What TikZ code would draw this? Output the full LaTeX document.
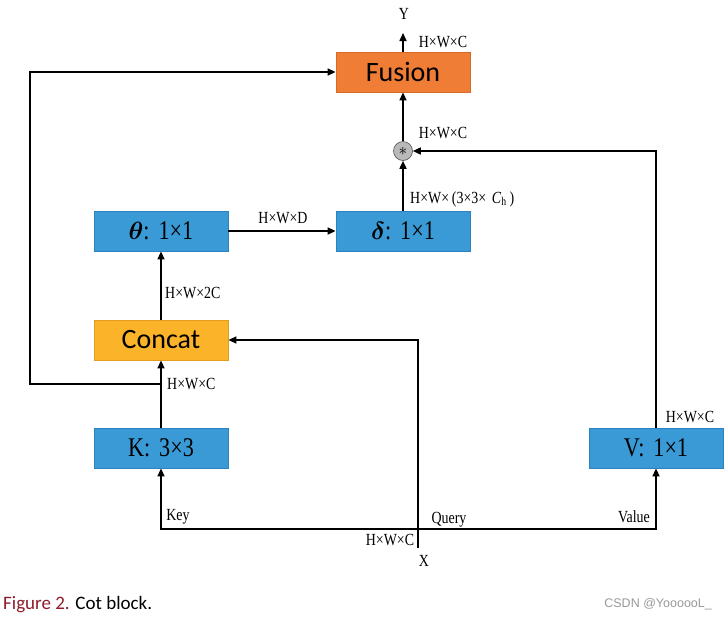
\documentclass[tikz,border=0pt]{standalone}
\usepackage{amsmath,amssymb,bm}
\usepackage{fontspec}
\setmainfont{Liberation Serif}
\newfontfamily\cotlabel[FakeStretch=0.82]{Liberation Serif}
\newfontfamily\cotsans{Carlito}
\newfontfamily\cotmark{Liberation Sans}
\usepackage{xcolor}
\usetikzlibrary{arrows.meta,positioning}
\definecolor{cotblue}{HTML}{3A9AD6}
\definecolor{cotblueline}{HTML}{2F82C0}
\definecolor{cotorange}{HTML}{F07D36}
\definecolor{cotorangeline}{HTML}{D66A2A}
\definecolor{cotyellow}{HTML}{FBB42A}
\definecolor{cotyellowline}{HTML}{E29D1E}
\definecolor{cotred}{HTML}{8E1B2A}
\tikzset{
  every picture/.append style={line join=miter},
  cot block/.style={draw=cotblueline,fill=cotblue,line width=0.8pt,minimum width=134pt,minimum height=40pt,inner sep=0pt,font=\cotlabel\fontsize{27}{30}\selectfont},
  cot fusion/.style={cot block,draw=cotorangeline,fill=cotorange,font=\cotsans\fontsize{28}{30}\selectfont},
  cot concat/.style={cot block,draw=cotyellowline,fill=cotyellow,font=\cotsans\fontsize{28}{30}\selectfont},
  cot mult/.style={circle,draw=gray!60!black,fill=gray!55,minimum size=19pt,inner sep=0pt,line width=0.6pt},
  cot dim/.style={font=\cotlabel\fontsize{17}{19}\selectfont,inner sep=1pt},
  cot line/.style={line width=1.6pt},
  cot arrow/.style={line width=1.6pt,-{Triangle[length=8pt,width=7pt]}}
}

\begin{document}
\begin{tikzpicture}[x=1pt,y=-1pt]
  \useasboundingbox (0,0) rectangle (727,619);
  % blocks
  \node[cot fusion] (fusion) at (403,72) {Fusion};
  \node[cot mult] (mult) at (403,151) {\fontsize{16}{16}\selectfont$\ast$};
  \node[cot block] (delta) at (403,231) {$\bm{\delta}$:\,\,1×1};
  \node[cot block] (theta) at (161,231) {$\bm{\theta}$:\,\,1×1};
  \node[cot concat] (concat) at (161,340) {Concat};
  \node[cot block] (key) at (161,448) {K:\,\,3×3};
  \node[cot block] (value) at (656,448) {V:\,\,1×1};
  % free ends and bends
  \coordinate (yout) at (403,33);
  \coordinate (xin) at (418,548);
  \coordinate (qjoin) at (418,529);
  \coordinate (ksplit) at (161,384);
  \coordinate (kleft) at (30,384);
  % connectors
  \draw[cot arrow] (fusion.north) -- (yout);
  \draw[cot arrow] (mult) -- (fusion.south);
  \draw[cot arrow] (delta.north) -- (mult.south);
  \draw[cot arrow] (value.north) |- (mult.east);
  \draw[cot arrow] (theta.east) -- (delta.west);
  \draw[cot arrow] (concat.north) -- (theta.south);
  \draw[cot arrow] (key.north) -- (concat.south);
  \draw[cot arrow] (ksplit) -- (kleft) |- (fusion.west);
  \draw[cot arrow] (xin) |- (concat.east);
  \draw[cot arrow] (qjoin) -| (key.south);
  \draw[cot arrow] (qjoin) -| (value.south);
  % labels
  \node[cot dim] (ylbl) at (404,14) {Y};
  \node[cot dim] (xlbl) at (424,561) {X};
  \node[cot dim] (dimout) at (443,42) {H×W×C};
  \node[cot dim] (dimmult) at (443,133) {H×W×C};
  \node[cot dim,anchor=west] (dimdelta) at (409,199) {H×W×\,(3×3×\,\,\textit{C}\textsubscript{h}\,)};
  \node[cot dim] (dimtheta) at (283,218) {H×W×D};
  \node[cot dim,anchor=west] (dimcat) at (164,293) {H×W×2C};
  \node[cot dim,anchor=west] (dimkey) at (166,384) {H×W×C};
  \node[cot dim] (dimval) at (690,417) {H×W×C};
  \node[cot dim] (dimx) at (390,540) {H×W×C};
  \node[cot dim] (keylbl) at (178,517) {Key};
  \node[cot dim] (querylbl) at (449,520) {Query};
  \node[cot dim] (valuelbl) at (634,517) {Value};
  % caption
  \node[anchor=west,inner sep=0pt,font=\cotsans\fontsize{19}{21}\selectfont] (caption) at (3,605) {\textcolor{cotred}{Figure 2.} Cot block.};
  \node[anchor=east,inner sep=0pt,text=gray!80,font=\cotmark\fontsize{12.5}{14}\selectfont] (mark) at (712,604) {CSDN @YoooooL\_};
\end{tikzpicture}
\end{document}
